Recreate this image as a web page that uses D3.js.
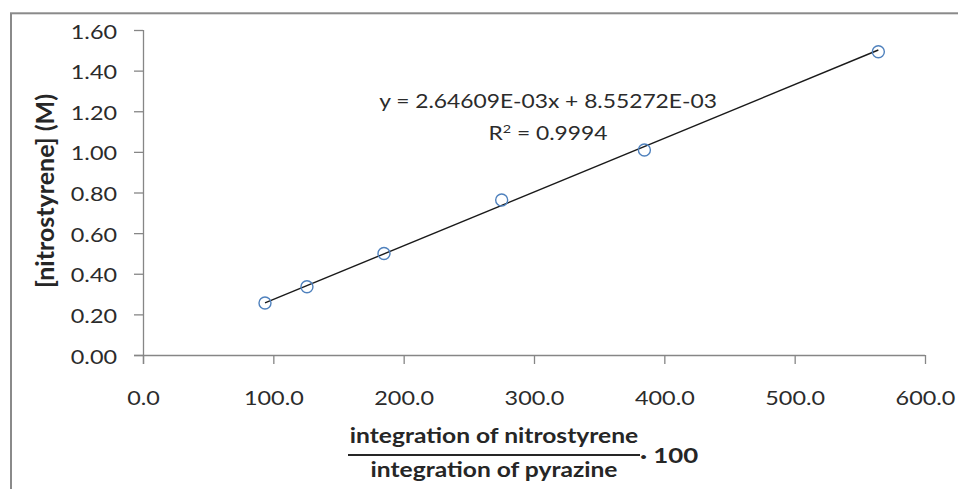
<!DOCTYPE html>
<html>
<head>
<meta charset="utf-8">
<script src="https://cdn.jsdelivr.net/npm/d3@7"></script>
<style>
  body { margin: 0; background: #fff; }
  svg { display: block; font-family: Lato, "Open Sans", sans-serif; }
</style>
</head>
<body>
<div id="chart"></div>
<script>
    // data
    var ratio = [93.6, 125.8, 184.9, 275.2, 384.7, 564.2];
    var conc = [0.256, 0.336, 0.500, 0.763, 1.009, 1.493];
    var xTicks = [0, 100, 200, 300, 400, 500, 600];
    var yTicks = [0, 0.2, 0.4, 0.6, 0.8, 1.0, 1.2, 1.4, 1.6];
    var slope = 2.64609E-03;
    var intercept = 8.55272E-03;
    var eqLabel = "y = 2.64609E-03x + 8.55272E-03";

    var width = 958;
    var height = 489;
    var stretch = 1.2; // the reference text is drawn wide
    var svg = d3.select("#chart").append("svg");
    svg.attr("width", width);
    svg.attr("height", height);

    // puts a text at its x,y and widens it around that point
    function widen(sel) {
        sel.each(function() {
            var t = d3.select(this);
            var tx = +t.attr("x") || 0;
            var ty = +t.attr("y") || 0;
            t.attr("x", 0).attr("y", 0)
                .attr("transform", "translate(" + tx + "," + ty + ") scale(" + stretch + ",1)");
        });
    }

    // chart frame
    svg.append("rect")
        .attr("x", 11).attr("y", 13.3)
        .attr("width", 960).attr("height", 490)
        .attr("fill", "none")
        .attr("stroke", "#8a8a8a")
        .attr("stroke-width", 2);

    var x = d3.scaleLinear().domain([0, 600]).range([143, 925]);
    var y = d3.scaleLinear().domain([0, 1.6]).range([355, 30]);

    var xAxis = svg.append("g")
        .attr("transform", "translate(0," + y(0) + ")")
        .call(d3.axisBottom(x).tickValues(xTicks).tickSize(9).tickPadding(27)
            .tickFormat(d3.format(".1f")));
    var yAxis = svg.append("g")
        .attr("transform", "translate(" + x(0) + ",0)")
        .call(d3.axisLeft(y).tickValues(yTicks).tickSize(9).tickPadding(17)
            .tickFormat(d3.format(".2f")));

    [xAxis, yAxis].forEach(function(g) {
        g.attr("font-family", null).attr("font-size", null);
        g.select(".domain").attr("stroke", "#868686").attr("stroke-width", 1.3);
        g.selectAll(".tick line").attr("stroke", "#868686").attr("stroke-width", 1.3);
        g.selectAll(".tick text")
            .attr("fill", "#2b2b2b")
            .style("font-size", "19.5px");
    });
    yAxis.selectAll(".tick text").attr("dy", "0.41em");
    widen(xAxis.selectAll(".tick text"));
    widen(yAxis.selectAll(".tick text"));
    yAxis.select(".domain").attr("d", "M0.5," + y(1.6) + "V" + (y(0) + 9));
    xAxis.select(".domain").attr("d", "M" + (x(0) - 9) + ",0.5H" + x(600));

    // trend line across the data range
    var xExt = d3.extent(ratio);
    svg.append("line")
        .attr("x1", x(xExt[0])).attr("y1", y(slope * xExt[0] + intercept))
        .attr("x2", x(xExt[1])).attr("y2", y(slope * xExt[1] + intercept))
        .attr("stroke", "#1a1a1a")
        .attr("stroke-width", 1.4);

    svg.selectAll("circle.pt")
        .data(ratio)
        .enter().append("circle")
        .attr("class", "pt")
        .attr("cx", function(d) { return x(d); })
        .attr("cy", function(d, i) { return y(conc[i]); })
        .attr("r", 6)
        .attr("fill", "none")
        .attr("stroke", "#4f81bd")
        .attr("stroke-width", 1.4);

    // equation labels
    svg.append("text")
        .attr("x", 548).attr("y", 108)
        .attr("text-anchor", "middle")
        .attr("fill", "#2b2b2b")
        .style("font-size", "19px")
        .text(eqLabel)
        .call(widen);
    var r2 = svg.append("text")
        .attr("x", 548).attr("y", 140)
        .attr("text-anchor", "middle")
        .attr("fill", "#2b2b2b")
        .style("font-size", "19px");
    r2.append("tspan").text("R");
    r2.append("tspan").attr("dy", -7).style("font-size", "12px").text("2");
    r2.append("tspan").attr("dy", 7).text(" = 0.9994");
    widen(r2);

    // y axis title
    svg.append("text")
        .attr("transform", "translate(54,191) rotate(-90)")
        .attr("text-anchor", "middle")
        .attr("fill", "#262626")
        .style("font-size", "25px")
        .style("font-weight", "bold")
        .text("[nitrostyrene] (M)");

    // x axis title as a fraction
    var xt = svg.append("g")
        .attr("fill", "#262626")
        .style("font-size", "20.5px")
        .style("font-weight", "bold");
    xt.append("text").attr("x", 494).attr("y", 443)
        .attr("text-anchor", "middle").text("integration of nitrostyrene");
    xt.append("line")
        .attr("x1", 348).attr("x2", 640).attr("y1", 455).attr("y2", 455)
        .attr("stroke", "#262626").attr("stroke-width", 1.8);
    xt.append("text").attr("x", 494).attr("y", 477)
        .attr("text-anchor", "middle").text("integration of pyrazine");
    xt.append("text").attr("x", 640).attr("y", 463)
        .style("font-size", "21.5px").text("· 100");
    widen(xt.selectAll("text"));
</script>
</body>
</html>
